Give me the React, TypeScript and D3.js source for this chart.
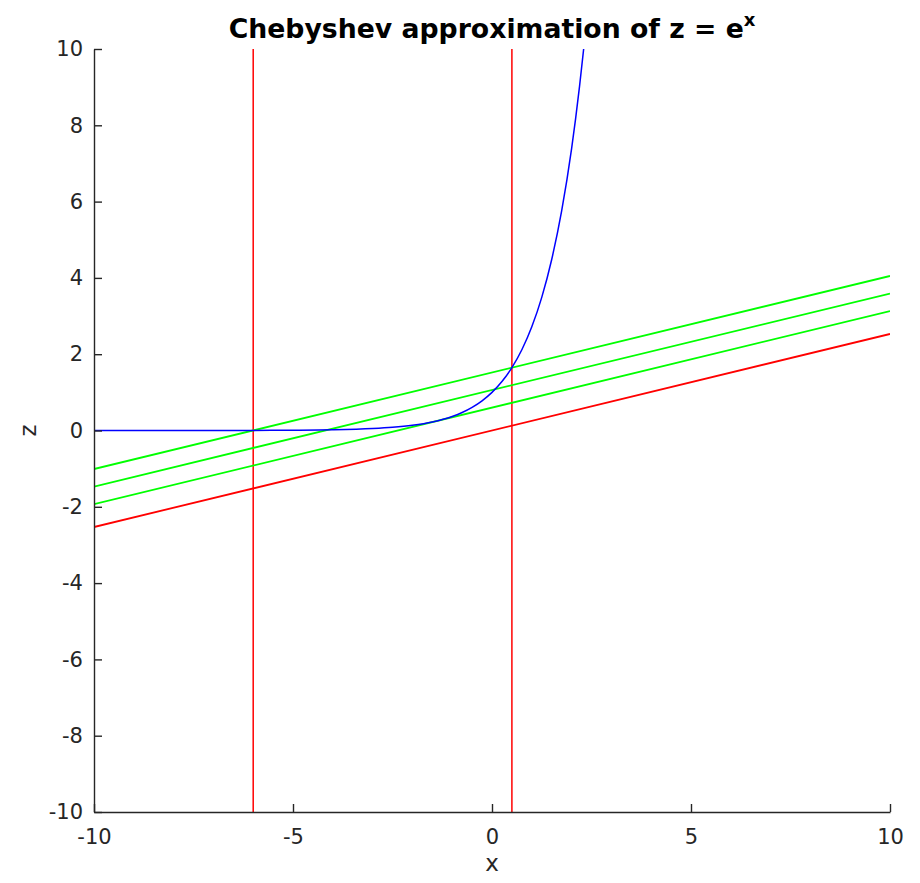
import React, { useEffect, useRef } from "react";
import * as d3 from "d3";

// values
const expX = [-10, -8, -6, -5, -4, -3, -2.5, -2, -1.5, -1, -0.75, -0.5, -0.25, 0, 0.25, 0.5, 0.75, 1, 1.25, 1.5, 1.75, 2, 2.1, 2.2, 2.303];
const expZ = [0.00005, 0.0003, 0.0025, 0.0067, 0.018, 0.05, 0.082, 0.135, 0.223, 0.368, 0.472, 0.607, 0.779, 1.0, 1.284, 1.649, 2.117, 2.718, 3.49, 4.482, 5.755, 7.389, 8.166, 9.025, 10.0];

const lineX = [-10, 10];
const greenTop = [-1.01, 4.05];
const greenMid = [-1.47, 3.59];
const greenBot = [-1.93, 3.13];
const redLine = [-2.53, 2.53];
const redVerticals = [-6, 0.5];

const xTicks = [-10, -5, 0, 5, 10];
const yTicks = [-10, -8, -6, -4, -2, 0, 2, 4, 6, 8, 10];

const W = 920;
const H = 883;
const margin = { left: 94, right: 30, top: 49, bottom: 71 };

const App = () => {
  const ref = useRef(null);

  useEffect(() => {
    const svg = d3.select(ref.current);
    svg.selectAll("*").remove();

    const x = d3.scaleLinear().domain([-10, 10]).range([margin.left, W - margin.right]);
    const y = d3.scaleLinear().domain([-10, 10]).range([H - margin.bottom, margin.top]);
    const fmt = (d) => String(d); // plain hyphen minus like the original

    svg
      .append("defs")
      .append("clipPath")
      .attr("id", "plotclip")
      .append("rect")
      .attr("x", x(-10))
      .attr("y", y(10))
      .attr("width", x(10) - x(-10))
      .attr("height", y(-10) - y(10));

    const g = svg.append("g").attr("clip-path", "url(#plotclip)");
    const line = d3.line().x((d) => x(d[0])).y((d) => y(d[1]));

    // red vertical lines
    redVerticals.forEach((v) => {
      g.append("line")
        .attr("x1", x(v))
        .attr("x2", x(v))
        .attr("y1", y(-10))
        .attr("y2", y(10))
        .attr("stroke", "#ff0000")
        .attr("stroke-width", 1.5);
    });

    // straight lines
    const straight = [
      { vals: redLine, color: "#ff0000" },
      { vals: greenBot, color: "#00ff00" },
      { vals: greenMid, color: "#00ff00" },
      { vals: greenTop, color: "#00ff00" },
    ];
    straight.forEach((s) => {
      g.append("path")
        .attr("d", line(lineX.map((v, i) => [v, s.vals[i]])))
        .attr("fill", "none")
        .attr("stroke", s.color)
        .attr("stroke-width", 1.8);
    });

    // e^x curve
    g.append("path")
      .attr("d", line.curve(d3.curveMonotoneX)(expX.map((v, i) => [v, expZ[i]])))
      .attr("fill", "none")
      .attr("stroke", "#0000ff")
      .attr("stroke-width", 1.5);

    const axisColor = "#262626";
    const font = "DejaVu Sans";

    // x axis
    const xAxis = svg
      .append("g")
      .attr("transform", `translate(0,${y(-10)})`)
      .call(d3.axisBottom(x).tickValues(xTicks).tickFormat(fmt).tickSizeInner(-8).tickSizeOuter(0).tickPadding(17));
    xAxis.select(".domain").attr("stroke", axisColor).attr("stroke-width", 1.4);
    xAxis.selectAll(".tick line").attr("stroke", axisColor).attr("stroke-width", 1.4);
    xAxis
      .selectAll(".tick text")
      .attr("fill", axisColor)
      .style("font-family", font)
      .style("font-size", "21px");

    // y axis
    const yAxis = svg
      .append("g")
      .attr("transform", `translate(${x(-10)},0)`)
      .call(d3.axisLeft(y).tickValues(yTicks).tickFormat(fmt).tickSizeInner(-8).tickSizeOuter(0).tickPadding(11));
    yAxis.select(".domain").attr("stroke", axisColor).attr("stroke-width", 1.4);
    yAxis.selectAll(".tick line").attr("stroke", axisColor).attr("stroke-width", 1.4);
    yAxis
      .selectAll(".tick text")
      .attr("fill", axisColor)
      .style("font-family", font)
      .style("font-size", "21px");

    // labels
    svg
      .append("text")
      .attr("x", (x(-10) + x(10)) / 2)
      .attr("y", 871)
      .attr("text-anchor", "middle")
      .attr("fill", axisColor)
      .style("font-family", font)
      .style("font-size", "23px")
      .text("x");

    svg
      .append("text")
      .attr("transform", `translate(36,${y(0)}) rotate(-90)`)
      .attr("text-anchor", "middle")
      .attr("fill", axisColor)
      .style("font-family", font)
      .style("font-size", "23px")
      .text("z");

    const title = svg
      .append("text")
      .attr("x", (x(-10) + x(10)) / 2)
      .attr("y", 38)
      .attr("text-anchor", "middle")
      .attr("fill", "#000")
      .style("font-family", font)
      .style("font-size", "26.7px")
      .style("font-weight", "bold");
    title.append("tspan").text("Chebyshev approximation of z = e");
    title.append("tspan").attr("dy", -12).style("font-size", "18px").text("x");
  });

  return (
    <div style={{ margin: -8 }}>
      <svg ref={ref} width={W} height={H} style={{ display: "block", background: "#fff" }}></svg>
    </div>
  );
};

export default App;
